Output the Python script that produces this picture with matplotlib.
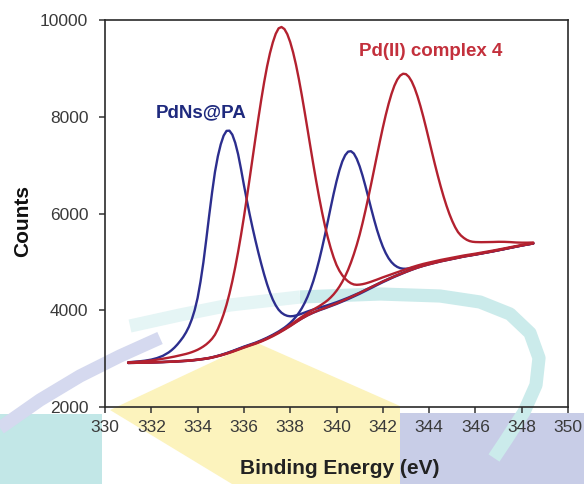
import matplotlib
matplotlib.use("Agg")
import matplotlib.pyplot as plt
from matplotlib.patches import Rectangle, Polygon

plt.rcParams["font.family"] = ["Liberation Sans", "DejaVu Sans"]

# Binding energy sampling of the backgrounds (eV)
ENERGY = [331.00, 331.25, 331.50, 331.75, 332.00, 332.25, 332.50, 332.75, 333.00, 333.25,
          333.50, 333.75, 334.00, 334.25, 334.50, 334.75, 335.00, 335.25, 335.50, 335.75,
          336.00, 336.25, 336.50, 336.75, 337.00, 337.25, 337.50, 337.75, 338.00, 338.25,
          338.50, 338.75, 339.00, 339.25, 339.50, 339.75, 340.00, 340.25, 340.50, 340.75,
          341.00, 341.25, 341.50, 341.75, 342.00, 342.25, 342.50, 342.75, 343.00, 343.25,
          343.50, 343.75, 344.00, 344.25, 344.50, 344.75, 345.00, 345.25, 345.50, 345.75,
          346.00, 346.25, 346.50, 346.75, 347.00, 347.25, 347.50, 347.75, 348.00, 348.25,
          348.50]

# ---- PdNs@PA (counts) ----
PDNS_BG = [2910, 2912, 2915, 2917, 2920, 2924, 2928, 2933, 2938, 2945,
           2952, 2962, 2975, 2990, 3010, 3038, 3070, 3108, 3150, 3195,
           3240, 3280, 3320, 3368, 3420, 3478, 3540, 3608, 3680, 3757,
           3830, 3895, 3950, 3998, 4040, 4085, 4130, 4180, 4230, 4285,
           4340, 4400, 4460, 4520, 4580, 4635, 4690, 4740, 4790, 4837,
           4880, 4917, 4950, 4980, 5010, 5035, 5060, 5085, 5110, 5130,
           5150, 5172, 5194, 5216, 5240, 5264, 5289, 5313, 5337, 5359,
           5380]

PDNS_PEAK1_E = [331.0, 331.25, 331.5, 331.75, 332.0, 332.25, 332.5, 332.75,
                332.875, 333.0, 333.125, 333.25, 333.375, 333.5, 333.625, 333.75, 333.875, 334.0,
                334.125, 334.25, 334.375, 334.5, 334.625, 334.75, 334.875, 335.0, 335.125, 335.25,
                335.375, 335.5, 335.625, 335.75, 335.875, 336.0, 336.125, 336.25, 336.375, 336.5,
                336.625, 336.75, 336.875, 337.0, 337.125, 337.25, 337.375, 337.5, 337.625, 337.75,
                337.875, 338.0, 338.125, 338.25, 338.375, 338.5,
                338.75, 339.0, 339.25, 339.5, 339.75, 340.0, 340.25, 340.5, 340.75, 341.0,
                341.25, 341.5, 341.75, 342.0, 342.25, 342.5, 342.75, 343.0, 343.25, 343.5,
                343.75, 344.0, 344.25, 344.5, 344.75, 345.0, 345.25, 345.5, 345.75, 346.0,
                346.25, 346.5, 346.75, 347.0, 347.25, 347.5, 347.75, 348.0, 348.25, 348.5]
PDNS_PEAK1 = [2925, 2934, 2945, 2959, 2980, 3012, 3058, 3128,
              3174, 3228, 3292, 3365, 3445, 3542, 3660, 3812, 4004, 4255,
              4590, 4990, 5465, 5960, 6434, 6858, 7183, 7430, 7610, 7708,
              7712, 7630, 7462, 7225, 6920, 6590, 6279, 5980, 5702, 5440,
              5191, 4958, 4739, 4540, 4366, 4218, 4100, 4010, 3948, 3908,
              3884, 3875, 3879, 3892, 3909, 3930,
              3975, 4015, 4053, 4087, 4126, 4166, 4212, 4259, 4311, 4363,
              4421, 4479, 4537, 4596, 4650, 4704, 4753, 4802, 4848, 4890,
              4927, 4959, 4989, 5018, 5043, 5067, 5092, 5116, 5136, 5156,
              5177, 5199, 5221, 5245, 5268, 5293, 5317, 5341, 5362, 5383]

PDNS_PEAK2_E = [331.0, 331.25, 331.5, 331.75, 332.0, 332.25, 332.5, 332.75, 333.0, 333.25,
                333.5, 333.75, 334.0, 334.25, 334.5, 334.75, 335.0, 335.25, 335.5, 335.75,
                336.0, 336.25, 336.5, 336.75, 337.0, 337.25, 337.5, 337.75,
                337.875, 338.0, 338.125, 338.25, 338.375, 338.5, 338.625, 338.75, 338.875, 339.0,
                339.125, 339.25, 339.375, 339.5, 339.625, 339.75, 339.875, 340.0, 340.125, 340.25,
                340.375, 340.5, 340.625, 340.75, 340.875, 341.0, 341.125, 341.25, 341.375, 341.5,
                341.625, 341.75, 341.875, 342.0, 342.125, 342.25, 342.375, 342.5, 342.625, 342.75,
                342.875, 343.0, 343.125, 343.25, 343.375, 343.5,
                343.75, 344.0, 344.25, 344.5, 344.75, 345.0, 345.25, 345.5, 345.75, 346.0,
                346.25, 346.5, 346.75, 347.0, 347.25, 347.5, 347.75, 348.0, 348.25, 348.5]
PDNS_PEAK2 = [2912, 2914, 2917, 2919, 2923, 2927, 2931, 2936, 2941, 2949,
              2956, 2966, 2979, 2995, 3015, 3043, 3076, 3114, 3157, 3202,
              3248, 3289, 3330, 3379, 3433, 3494, 3561, 3640,
              3686, 3738, 3798, 3867, 3947, 4040, 4151, 4280, 4431, 4605,
              4807, 5034, 5285, 5553, 5838, 6125, 6405, 6664, 6891, 7076,
              7205, 7278, 7288, 7239, 7130, 6975, 6783, 6566, 6334, 6098,
              5872, 5661, 5476, 5315, 5182, 5075, 4994, 4935, 4895, 4870,
              4859, 4858, 4864, 4875, 4889, 4904,
              4934, 4963, 4991, 5019, 5043, 5067, 5091, 5116, 5135, 5155,
              5176, 5198, 5220, 5243, 5267, 5292, 5316, 5339, 5361, 5382]

# ---- Pd(II) complex 4 (counts) ----
COMPLEX_BG = [2910, 2912, 2915, 2917, 2920, 2924, 2928, 2933, 2938, 2945,
              2952, 2962, 2975, 2990, 3008, 3034, 3064, 3100, 3140, 3183,
              3227, 3268, 3308, 3354, 3406, 3464, 3528, 3598, 3672, 3752,
              3828, 3896, 3954, 4004, 4048, 4095, 4142, 4193, 4245, 4300,
              4357, 4417, 4477, 4535, 4593, 4646, 4698, 4746, 4794, 4839,
              4881, 4918, 4950, 4980, 5010, 5035, 5060, 5085, 5110, 5130,
              5150, 5172, 5194, 5216, 5240, 5264, 5289, 5313, 5337, 5359,
              5380]

COMPLEX_PEAK1_E = [331.0, 331.25, 331.5, 331.75, 332.0, 332.25, 332.5, 332.75, 333.0, 333.25,
                   333.5,
                   333.625, 333.75, 333.875, 334.0, 334.125, 334.25, 334.375, 334.5, 334.625, 334.75,
                   334.875, 335.0, 335.125, 335.25, 335.375, 335.5, 335.625, 335.75, 335.875, 336.0,
                   336.125, 336.25, 336.375, 336.5, 336.625, 336.75, 336.875, 337.0, 337.125, 337.25,
                   337.375, 337.5, 337.625, 337.75, 337.875, 338.0, 338.125, 338.25, 338.375, 338.5,
                   338.625, 338.75, 338.875, 339.0, 339.125, 339.25, 339.375, 339.5, 339.625, 339.75,
                   339.875, 340.0, 340.125, 340.25, 340.375, 340.5, 340.625, 340.75, 340.875, 341.0,
                   341.125, 341.25, 341.375, 341.5,
                   341.75, 342.0, 342.25, 342.5, 342.75, 343.0, 343.25, 343.5, 343.75, 344.0,
                   344.25, 344.5, 344.75, 345.0, 345.25, 345.5, 345.75, 346.0, 346.25, 346.5,
                   346.75, 347.0, 347.25, 347.5, 347.75, 348.0, 348.25, 348.5]
COMPLEX_PEAK1 = [2922, 2930, 2939, 2949, 2962, 2979, 2998, 3019, 3042, 3069,
                 3097,
                 3114, 3134, 3157, 3183, 3215, 3252, 3295, 3348, 3411, 3494,
                 3611, 3754, 3920, 4115, 4342, 4600, 4890, 5208, 5554, 5925,
                 6320, 6729, 7145, 7560, 7967, 8355, 8715, 9038, 9313, 9538,
                 9715, 9828, 9855, 9813, 9707, 9544, 9332, 9075, 8777, 8449,
                 8099, 7737, 7372, 7011, 6664, 6334, 6028, 5748, 5501, 5283,
                 5094, 4936, 4816, 4723, 4651, 4597, 4557, 4533, 4526, 4530,
                 4539, 4553, 4571, 4591,
                 4634, 4680, 4722, 4765, 4806, 4848, 4888, 4925, 4958, 4986,
                 5013, 5040, 5063, 5086, 5109, 5132, 5151, 5170, 5191, 5212,
                 5233, 5256, 5279, 5303, 5326, 5349, 5371, 5391]

COMPLEX_PEAK2_E = [331.0, 331.25, 331.5, 331.75, 332.0, 332.25, 332.5, 332.75, 333.0, 333.25,
                   333.5, 333.75, 334.0, 334.25, 334.5, 334.75, 335.0, 335.25, 335.5, 335.75,
                   336.0, 336.25, 336.5, 336.75, 337.0, 337.25, 337.5, 337.75, 338.0, 338.25,
                   338.5, 338.75, 339.0, 339.25, 339.5,
                   339.625, 339.75, 339.875, 340.0, 340.125, 340.25, 340.375, 340.5, 340.625, 340.75,
                   340.875, 341.0, 341.125, 341.25, 341.375, 341.5, 341.625, 341.75, 341.875, 342.0,
                   342.125, 342.25, 342.375, 342.5, 342.625, 342.75, 342.875, 343.0, 343.125, 343.25,
                   343.375, 343.5, 343.625, 343.75, 343.875, 344.0, 344.125, 344.25, 344.375, 344.5,
                   344.625, 344.75, 344.875, 345.0, 345.125, 345.25, 345.375, 345.5, 345.625, 345.75,
                   345.875, 346.0,
                   346.25, 346.5, 346.75, 347.0, 347.25, 347.5, 347.75, 348.0, 348.25, 348.5]
COMPLEX_PEAK2 = [2913, 2915, 2918, 2920, 2924, 2928, 2932, 2937, 2942, 2950,
                 2957, 2967, 2980, 2996, 3014, 3040, 3071, 3107, 3147, 3191,
                 3235, 3277, 3318, 3365, 3418, 3477, 3543, 3616, 3694, 3780,
                 3863, 3941, 4014, 4084, 4163,
                 4210, 4265, 4328, 4402, 4488, 4588, 4703, 4835, 4988, 5160,
                 5350, 5562, 5801, 6060, 6334, 6618, 6910, 7203, 7493, 7772,
                 8031, 8266, 8471, 8641, 8768, 8851, 8889, 8881, 8826, 8729,
                 8592, 8421, 8221, 7999, 7761, 7513, 7264, 7018, 6783, 6560,
                 6352, 6162, 5992, 5844, 5717, 5615, 5545, 5495, 5456, 5430,
                 5416, 5410,
                 5407, 5409, 5411, 5415, 5414, 5409, 5401, 5397, 5397, 5400]

X_TICKS = [330, 332, 334, 336, 338, 340, 342, 344, 346, 348, 350]
Y_TICKS = [2000, 4000, 6000, 8000, 10000]

BLUE = "#2c2e8e"
RED = "#b3212f"
LW = 1.7

W, H = 584, 484
fig = plt.figure(figsize=(W / 100, H / 100), dpi=100)
fig.patch.set_facecolor("white")

# faint logo behind the chart (pixel coordinates, y downward)
bg = fig.add_axes([0, 0, 1, 1], zorder=0)
bg.set_xlim(0, W)
bg.set_ylim(H, 0)
bg.axis("off")
bg.add_patch(Polygon([(110, 410), (255, 342), (400, 406), (400, 484), (232, 484)],
                     closed=True, facecolor="#fcf3bd", edgecolor="none"))
bg.add_patch(Rectangle((0, 414), 102, 70, facecolor="#c2e7e7", edgecolor="none"))
bg.add_patch(Rectangle((400, 413), 184, 71, facecolor="#c8cde7", edgecolor="none"))
bg.plot([0, 40, 80, 120, 160], [428, 400, 376, 356, 338],
        color="#d5d9ef", lw=9.5, solid_capstyle="butt", solid_joinstyle="round")
bg.plot([130, 180, 230, 300], [326, 315, 305, 297],
        color="#e5f5f5", lw=9.5, solid_capstyle="butt", solid_joinstyle="round")
bg.plot([300, 380, 440, 480, 510, 530, 539, 536, 524, 506, 494],
        [297, 294, 296, 302, 314, 333, 358, 385, 412, 440, 458],
        color="#cbebeb", lw=9.5, solid_capstyle="butt", solid_joinstyle="round")

ax = fig.add_axes([105 / W, 77 / H, 463 / W, 387 / H], zorder=1)
ax.set_facecolor("none")

line_kw = dict(lw=LW, solid_joinstyle="round", solid_capstyle="round")
ax.plot(ENERGY, PDNS_BG, color=BLUE, **line_kw)
ax.plot(PDNS_PEAK1_E, PDNS_PEAK1, color=BLUE, **line_kw)
ax.plot(PDNS_PEAK2_E, PDNS_PEAK2, color=BLUE, **line_kw)
ax.plot(ENERGY, COMPLEX_BG, color=RED, **line_kw)
ax.plot(COMPLEX_PEAK1_E, COMPLEX_PEAK1, color=RED, **line_kw)
ax.plot(COMPLEX_PEAK2_E, COMPLEX_PEAK2, color=RED, **line_kw)

ax.text(334.15, 8090, "PdNs@PA", ha="center", va="center",
        fontsize=13.5, fontweight="bold", color="#1f2a7e")
ax.text(344.05, 9340, "Pd(II) complex 4", ha="center", va="center",
        fontsize=13.5, fontweight="bold", color="#c3303c")

ax.set_xlim(330, 350)
ax.set_ylim(2000, 10000)
ax.set_xticks(X_TICKS)
ax.set_yticks(Y_TICKS)
ax.tick_params(axis="both", direction="out", length=4, width=1.1,
               color="#333333", labelsize=12.5, labelcolor="#3a3a3a")
ax.tick_params(axis="x", pad=5.5)
ax.tick_params(axis="y", pad=8)
for side in ("left", "bottom", "top", "right"):
    ax.spines[side].set_color("#2a2a2a")
    ax.spines[side].set_linewidth(1.2)

ax.set_xlabel("Binding Energy (eV)", fontsize=15, fontweight="bold", color="#222222")
ax.set_ylabel("Counts", fontsize=15, fontweight="bold", color="#111111")
ax.xaxis.set_label_coords(0.506, -0.134)
ax.yaxis.set_label_coords(-0.157, 0.48)

fig.savefig("out.png", dpi=100)
